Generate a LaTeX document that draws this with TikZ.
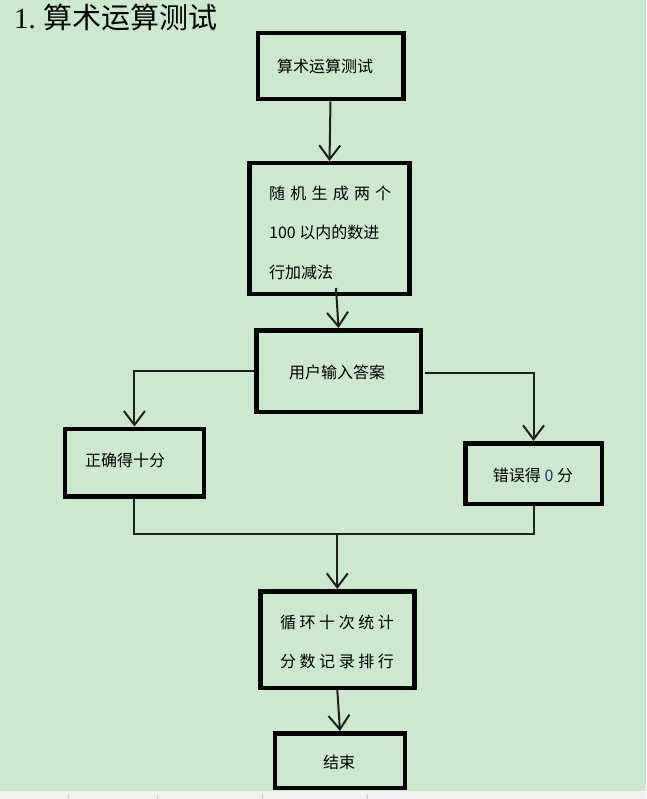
\documentclass[tikz,border=0pt]{standalone}
\usepackage{fontspec}
\setmainfont{Liberation Serif}
\newfontfamily\cjk{Noto Sans CJK SC}
\usetikzlibrary{arrows.meta,calc}
\definecolor{bg}{HTML}{CCE8CF}
\definecolor{strip}{HTML}{F2F2F2}
\definecolor{sepc}{HTML}{D6D6D6}
\definecolor{zero}{HTML}{26366A}
\newcommand{\csp}{\hspace{5.2pt}}
\begin{document}
\begin{tikzpicture}[x=1pt,y=-1pt,
  box/.style={draw=black, line width=4.5pt, rectangle, inner sep=0pt},
  txt/.style={font=\cjk\fontsize{16}{16}\selectfont, inner sep=0pt},
  conn/.style={line width=2pt, draw=black!88},
  arr/.style={conn, -{Straight Barb[length=14pt,width=21pt]}}]
% background
\fill[bg] (0,0) rectangle (646,799);
\useasboundingbox (0,0) rectangle (646,799);
\fill[strip] (0,791) rectangle (646,799);
\foreach \sx in {68,157,262,367.5}{\draw[sepc, line width=0.8pt] (\sx,794) -- (\sx,799);}
% title
\node[anchor=west, inner sep=0pt] (title) at (14,17)
  {\fontsize{29}{29}\selectfont 1.\hspace{8pt}{\cjk\fontsize{29}{29}\selectfont 算术运算测试}};
% boxes
\node[box, minimum width=145.5pt, minimum height=66pt] (b1) at (330.5,66.25) {};
\node[txt] (t1) at (325,66) {算术运算测试};
\node[box, minimum width=160pt, minimum height=130.5pt] (b2) at (329.5,228.5) {};
\node[txt, anchor=west, align=left, font=\cjk\fontsize{16}{39.5}\selectfont] (t2) at (269,232.5)
  {随\csp 机\csp 生\csp 成\csp 两\csp 个\\100 以内的数进\\行加减法};
\node[box, minimum width=164.5pt, minimum height=81.5pt] (b3) at (338.5,371) {};
\node[txt] (t3) at (337,372) {用户输入答案};
\node[box, minimum width=139pt, minimum height=67.5pt] (b4) at (134.4,462.7) {};
\node[txt] (t4) at (125,460) {正确得十分};
\node[box, minimum width=136.5pt, minimum height=60.5pt] (b5) at (533.5,473.5) {};
\node[txt] (t5) at (533,475) {错误得 {\color{zero}0} 分};
\node[box, minimum width=154pt, minimum height=96.5pt] (b6) at (337.3,639.5) {};
\node[txt, align=center, font=\cjk\fontsize{16}{39}\selectfont] (t6) at (337,641.5)
  {循 环 十 次 统 计\\分 数 记 录 排 行};
\node[box, minimum width=130pt, minimum height=54.5pt] (b7) at (340,760.5) {};
\node[txt] (t7) at (339,762) {结束};
% connectors
\coordinate (s2) at ($(b2.south)+(6.5,-8)$);
\coordinate (s3) at ($(b3.east)+(2,1.5)$);
\coordinate (jy) at (0,534);
\draw[arr] (b1.south) -- (b2.north);
\draw[arr] (s2) -- (b3.north);
\draw[arr] (b3.west) -| (b4.north);
\draw[arr] (s3) -| (b5.north);
\draw[conn] (b4.south) |- (b5.south |- jy) -- (b5.south);
\draw[arr] (b6.north |- jy) -- (b6.north);
\draw[arr] (b6.south) -- (b7.north);
\end{tikzpicture}
\end{document}
